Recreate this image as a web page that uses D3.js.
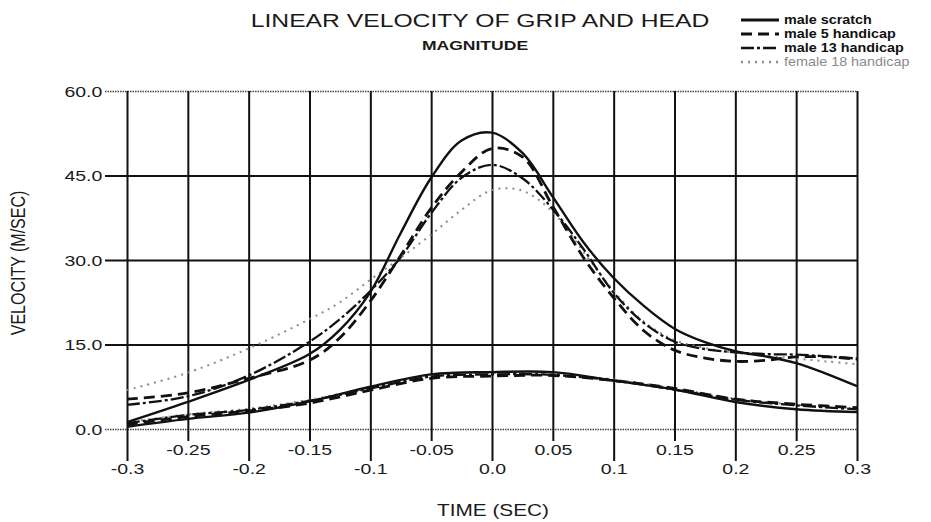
<!DOCTYPE html>
<html>
<head>
<meta charset="utf-8">
<script src="https://cdn.jsdelivr.net/npm/d3@7"></script>
<style>
body { margin: 0; background: #fff; }
text { font-family: "Liberation Sans", Arial, sans-serif; fill: #1a1a1a; }
</style>
</head>
<body>
<div id="canvas"></div>
<script>
// time stamps (sec) for the head curves and the grip curves
var headTime = [-0.3, -0.25, -0.2, -0.15, -0.125, -0.1, -0.075, -0.05, -0.025, 0, 0.025, 0.05, 0.075, 0.1, 0.125, 0.15, 0.175, 0.2, 0.225, 0.25, 0.275, 0.3];
var gripTime = [-0.3, -0.25, -0.2, -0.15, -0.1, -0.05, 0, 0.05, 0.1, 0.15, 0.2, 0.25, 0.3];

// velocity (m/sec)
var scratchHead = [1.2, 4.8, 8.7, 13.3, 17.6, 24.3, 34.8, 44.6, 51.2, 52.6, 49.0, 41.2, 33.2, 26.8, 21.8, 17.8, 15.4, 13.8, 12.9, 11.7, 9.8, 7.6];
var male5Head = [5.3, 6.4, 9.0, 12.2, 16.2, 22.7, 30.8, 39.2, 45.6, 49.8, 48.3, 39.5, 30.5, 23.3, 17.4, 14.0, 12.6, 12.0, 12.2, 12.8, 12.8, 12.4];
var male13Head = [4.3, 5.8, 9.5, 15.5, 19.5, 24.5, 30.5, 38.3, 44.6, 46.9, 44.5, 39.0, 32.0, 24.2, 18.8, 15.5, 14.2, 13.6, 13.3, 13.2, 12.9, 12.5];
var femaleHead = [6.9, 10.0, 14.3, 19.5, 22.5, 26.5, 30.4, 34.5, 38.9, 42.4, 42.3, 38.5, 31.5, 24.5, 19.0, 15.8, 14.4, 13.5, 13.0, 12.5, 12.0, 11.5];

var scratchGrip = [0.4, 1.8, 2.9, 4.9, 7.5, 9.7, 10.1, 10.1, 8.6, 7.0, 4.8, 3.5, 3.0];
var male5Grip = [0.8, 2.2, 3.2, 4.6, 6.9, 9.0, 9.4, 9.5, 8.6, 7.2, 5.3, 4.4, 3.8];
var male13Grip = [1.0, 2.5, 3.4, 5.0, 7.2, 9.3, 9.7, 9.6, 8.6, 7.0, 5.2, 4.2, 3.5];
var femaleGrip = [1.2, 2.6, 3.6, 5.2, 7.4, 9.6, 10.0, 9.8, 8.8, 7.2, 5.4, 4.3, 3.6];

var seriesNames = ['male scratch', 'male 5 handicap', 'male 13 handicap', 'female 18 handicap'];
var xTicks = d3.range(-6, 7).map(function(i){ return i / 20; });
var yTicks = [0, 15, 30, 45, 60];

var svg = d3.select('#canvas').append('svg').attr('width', 931).attr('height', 522);
svg.append('rect').attr('width', 931).attr('height', 522).attr('fill', '#fff');

var x = d3.scaleLinear().domain([-0.3, 0.3]).range([127, 857]);
var y = d3.scaleLinear().domain([0, 60]).range([429, 91]);
var wide = 'scale(1.3,1)'; // the scanned lettering is wide

// y axis + horizontal grid
var gy = svg.append('g').attr('transform', 'translate(' + x.range()[0] + ',0)')
    .call(d3.axisLeft(y).tickValues(yTicks).tickSize(0).tickFormat(d3.format('.1f')));
gy.select('.domain').remove();
gy.selectAll('.tick line')
    .attr('x1', -22).attr('x2', x.range()[1] - x.range()[0])
    .attr('stroke', function(d){ return (d === 0 || d === 60) ? '#444' : '#111'; })
    .attr('stroke-width', function(d){ return (d === 0 || d === 60) ? 1.6 : 1.8; })
    .attr('stroke-dasharray', function(d){ return (d === 0 || d === 60) ? '1.5,1' : null; });
gy.selectAll('.tick text')
    .attr('x', -19).attr('dy', '0.36em').attr('font-size', 15)
    .attr('font-family', '"Liberation Sans", Arial, sans-serif')
    .attr('transform', wide);

// x axis + vertical grid
var gx = svg.append('g').attr('transform', 'translate(0,' + y(0) + ')')
    .call(d3.axisBottom(x).tickValues(xTicks).tickSize(0).tickFormat(function(d){
        return d === 0 ? '0.0' : String(+d.toFixed(2));
    }));
gx.select('.domain').remove();
function major(d){ return Math.round(d * 20) % 2 === 0; }
gx.selectAll('.tick line')
    .attr('y1', y(60) - y(0))
    .attr('y2', function(d){ return major(d) ? 32 : 12; })
    .attr('stroke', '#111').attr('stroke-width', 2);
gx.selectAll('.tick text')
    .attr('y', function(d){ return major(d) ? 45 : 26; }).attr('dy', null)
    .attr('font-size', 15)
    .attr('font-family', '"Liberation Sans", Arial, sans-serif')
    .attr('transform', wide);

// curves
var styles = [
    {stroke: '#111', width: 2.4, dash: null},
    {stroke: '#111', width: 2.8, dash: '11,6'},
    {stroke: '#111', width: 2.3, dash: '13,3,3,3'},
    {stroke: '#8a8a8a', width: 2, dash: '2,5'}
];
var heads = [scratchHead, male5Head, male13Head, femaleHead];
var grips = [scratchGrip, male5Grip, male13Grip, femaleGrip];

var line = d3.line()
    .x(function(d){ return x(d[0]); })
    .y(function(d){ return y(d[1]); })
    .curve(d3.curveCatmullRom.alpha(0.5));

var curves = svg.append('g').attr('fill', 'none');
[3, 2, 1, 0].forEach(function(i){
    var s = styles[i];
    [d3.zip(headTime, heads[i]), d3.zip(gripTime, grips[i])].forEach(function(pts){
        curves.append('path').attr('d', line(pts))
            .attr('stroke', s.stroke).attr('stroke-width', s.width)
            .attr('stroke-dasharray', s.dash).attr('stroke-linecap', 'butt');
    });
});

// titles
svg.append('text').attr('transform', 'translate(480,27) ' + wide)
    .attr('text-anchor', 'middle').attr('font-size', 19)
    .text('LINEAR VELOCITY OF GRIP AND HEAD');
svg.append('text').attr('transform', 'translate(475,50) ' + wide)
    .attr('text-anchor', 'middle').attr('font-size', 13.5).attr('font-weight', 'bold')
    .text('MAGNITUDE');
svg.append('text').attr('transform', 'translate(493,516) ' + wide)
    .attr('text-anchor', 'middle').attr('font-size', 16)
    .text('TIME (SEC)');
svg.append('text').attr('transform', 'translate(25,263) ' + wide + ' rotate(-90)')
    .attr('text-anchor', 'middle').attr('font-size', 16)
    .text('VELOCITY (M/SEC)');

// legend
var legend = svg.append('g').attr('transform', 'translate(741,0)');
var rowY = [24, 38, 52, 66];
seriesNames.forEach(function(name, i){
    var s = styles[i];
    legend.append('line')
        .attr('x1', 0).attr('x2', 38).attr('y1', rowY[i] - 4).attr('y2', rowY[i] - 4)
        .attr('stroke', s.stroke).attr('stroke-width', s.width + 0.4)
        .attr('stroke-dasharray', s.dash);
    legend.append('text').attr('transform', 'translate(43,' + rowY[i] + ') scale(1.15,1)')
        .attr('font-size', 12.5)
        .attr('font-weight', i === 3 ? 'normal' : 'bold')
        .style('fill', i === 3 ? '#8a8a8a' : '#111')
        .text(name);
});
</script>
</body>
</html>
